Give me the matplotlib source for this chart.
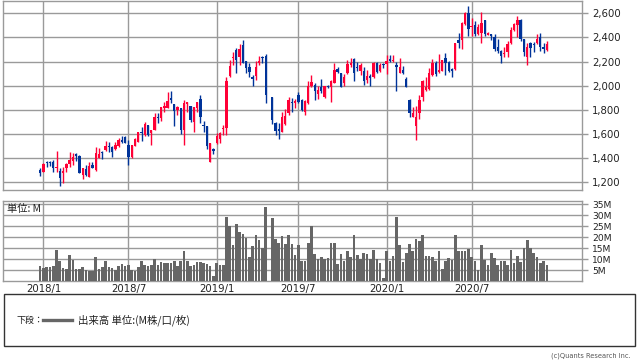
import matplotlib
matplotlib.use('Agg')
import matplotlib.pyplot as plt
import matplotlib.dates as mdates
from matplotlib.patches import Rectangle
from matplotlib.lines import Line2D
import pandas as pd

# ---- data (weekly candles) ----
weeks = pd.date_range('2017-12-25', periods=156, freq='7D')
weeks = weeks[weeks != pd.Timestamp('2019-04-29')]   # Golden Week: no trading

open_ = [1300, 1286, 1366, 1366, 1366, 1314, 1292, 1278, 1314, 1350, 1377, 1433, 1416, 1259, 1308, 1245,
         1342, 1300, 1397, 1452, 1466, 1502, 1494, 1474, 1502, 1549, 1574, 1507, 1411, 1502, 1535, 1615,
         1590, 1673, 1610, 1632, 1742, 1734, 1812, 1817, 1897, 1848, 1800, 1812, 1632, 1845, 1831, 1701,
         1817, 1889, 1676, 1665, 1369, 1471, 1521, 1554, 1637, 1651, 2080, 2229, 2296, 2240, 2337, 2204,
         2157, 2069, 2080, 2185, 2235, 2246,
         1908, 1687, 1637, 1618, 1679, 1770, 1867, 1859, 1922, 1881, 1784, 1859, 1997, 2005, 1931,
         1986, 1903, 1997, 1986, 2025, 2135, 2108, 2025, 2108, 2171, 2218, 2157, 2124, 2124, 2047,
         2080, 2069, 2191, 2124, 2180, 2180, 2218, 2207, 2171, 2102, 2130, 2052, 1881, 1743, 1665,
         1776, 1903, 1964, 1969, 2088, 2191, 2116, 2124, 2227, 2199, 2138, 2135, 2379, 2379, 2511,
         2600, 2489, 2503, 2429, 2434, 2545, 2420, 2426, 2406, 2323, 2290, 2263, 2282, 2351, 2462,
         2503, 2545, 2384, 2240, 2357, 2343, 2357, 2406, 2318, 2296]
high = [1314, 1355, 1377, 1377, 1383, 1458, 1314, 1328, 1361, 1447, 1438, 1444, 1422, 1320, 1342, 1369,
        1369, 1494, 1480, 1461, 1543, 1532, 1499, 1535, 1568, 1582, 1582, 1549, 1507, 1563, 1615, 1660,
        1698, 1673, 1632, 1770, 1770, 1820, 1867, 1944, 1955, 1848, 1835, 1812, 1881, 1867, 1831, 1825,
        1861, 1922, 1709, 1665, 1521, 1480, 1604, 1618, 1673, 2069, 2213, 2282, 2310, 2343, 2379, 2204,
        2185, 2088, 2207, 2246, 2246, 2263,
        1908, 1696, 1687, 1779, 1806, 1908, 1895, 1886, 1944, 1889, 1881, 2039, 2088, 2019, 1997,
        2052, 1997, 2005, 2047, 2191, 2157, 2108, 2097, 2213, 2227, 2227, 2199, 2185, 2157, 2130,
        2097, 2199, 2199, 2185, 2191, 2254, 2254, 2254, 2199, 2227, 2163, 2069, 1886, 1822, 1831,
        1922, 2047, 2074, 2144, 2218, 2204, 2263, 2213, 2268, 2207, 2144, 2357, 2434, 2531, 2614,
        2661, 2558, 2539, 2511, 2614, 2545, 2448, 2426, 2426, 2384, 2296, 2323, 2373, 2489, 2523,
        2578, 2550, 2384, 2351, 2365, 2365, 2426, 2434, 2351, 2373]
low = [1253, 1286, 1328, 1336, 1286, 1286, 1170, 1195, 1286, 1328, 1341, 1377, 1272, 1225, 1253, 1245,
       1314, 1294, 1397, 1389, 1461, 1447, 1411, 1466, 1494, 1521, 1521, 1342, 1397, 1502, 1535, 1541,
       1585, 1582, 1507, 1632, 1693, 1709, 1784, 1812, 1853, 1665, 1760, 1599, 1507, 1784, 1696, 1618,
       1784, 1687, 1613, 1471, 1369, 1430, 1516, 1527, 1590, 1590, 2069, 2171, 2108, 2171, 2185, 2108,
       2074, 2000, 2047, 2171, 2185, 1853,
       1682, 1590, 1554, 1613, 1673, 1756, 1784, 1817, 1853, 1792, 1756, 1848, 1986, 1881, 1886,
       1942, 1900, 1978, 1867, 2019, 2102, 1986, 1997, 2097, 2157, 2041, 2124, 2088, 2005, 2019,
       1997, 2061, 2102, 2116, 2144, 2097, 2199, 2199, 1958, 2102, 2097, 1986, 1737, 1743, 1549,
       1720, 1875, 1958, 1964, 2080, 2080, 2102, 2121, 2088, 2116, 2069, 2130, 2310, 2301, 2503,
       2412, 2412, 2412, 2420, 2357, 2415, 2420, 2379, 2290, 2268, 2191, 2240, 2235, 2346, 2456,
       2406, 2373, 2246, 2171, 2240, 2282, 2343, 2290, 2268, 2290]
close = [1272, 1350, 1355, 1358, 1314, 1328, 1236, 1292, 1350, 1383, 1411, 1419, 1278, 1314, 1259, 1333,
         1314, 1438, 1433, 1438, 1502, 1488, 1452, 1507, 1549, 1535, 1521, 1405, 1507, 1554, 1615, 1604,
         1682, 1590, 1632, 1742, 1729, 1820, 1831, 1873, 1881, 1790, 1825, 1632, 1853, 1862, 1715, 1825,
         1861, 1737, 1668, 1499, 1521, 1460, 1582, 1610, 1651, 2039, 2163, 2240, 2213, 2301, 2191, 2144,
         2116, 2052, 2152, 2204, 2227, 1922,
         1715, 1626, 1624, 1742, 1748, 1881, 1859, 1875, 1867, 1798, 1873, 1997, 2033, 1958, 1964,
         1958, 1997, 1986, 2041, 2130, 2116, 1991, 2074, 2180, 2191, 2108, 2144, 2171, 2041, 2080,
         2061, 2185, 2116, 2171, 2171, 2204, 2202, 2213, 2157, 2157, 2102, 1991, 1770, 1776, 1743,
         1881, 2041, 1986, 2102, 2191, 2097, 2130, 2213, 2185, 2124, 2121, 2351, 2357, 2517, 2606,
         2467, 2495, 2426, 2489, 2517, 2426, 2434, 2412, 2301, 2290, 2246, 2274, 2346, 2462, 2511,
         2545, 2384, 2282, 2318, 2310, 2334, 2384, 2323, 2301, 2346]
volume_m = [6.9, 5.9, 6.2, 6.2, 6.7, 14.3, 9.3, 5.9, 5.6, 12.0, 9.7, 5.6, 5.6, 6.5, 5.0, 4.8,
            4.7, 11.1, 5.6, 6.2, 9.3, 6.2, 5.9, 5.1, 6.7, 7.9, 6.7, 7.4, 5.0, 4.7, 6.2, 9.3,
            7.1, 6.7, 7.4, 10.2, 7.4, 8.5, 8.4, 8.4, 8.4, 9.3, 6.7, 9.3, 13.8, 9.0, 7.0, 7.3,
            8.7, 8.8, 8.2, 8.0, 6.7, 2.1, 8.2, 7.1, 7.1, 29.4, 25.0, 16.3, 26.0, 22.4, 21.5, 19.9,
            11.2, 15.8, 21.2, 18.9, 15.1, 34.0,
            28.8, 19.3, 17.2, 20.7, 16.9, 21.2, 16.9, 12.0, 16.6, 9.3, 9.3, 17.4, 25.1, 12.5, 10.0,
            11.1, 10.0, 10.5, 17.4, 17.4, 7.9, 12.3, 9.0, 13.8, 11.1, 21.2, 12.0, 10.2, 12.7, 12.3,
            10.0, 14.3, 10.0, 8.2, 1.6, 13.8, 9.0, 11.6, 29.4, 16.6, 8.5, 12.7, 16.9, 13.8, 19.3,
            18.1, 21.2, 11.6, 11.6, 11.1, 9.0, 13.8, 5.6, 9.0, 10.5, 9.4, 21.2, 13.8, 13.8, 13.5,
            14.8, 10.8, 9.3, 5.0, 16.6, 9.7, 7.1, 12.7, 10.5, 7.4, 9.0, 9.0, 7.1, 14.3, 8.2,
            11.6, 8.5, 15.1, 18.9, 15.1, 12.7, 10.8, 8.2, 9.3, 7.4]

price_ticks = [1200, 1400, 1600, 1800, 2000, 2200, 2400, 2600]
vol_ticks = [5, 10, 15, 20, 25, 30, 35]
x_tick_dates = ['2018-01-01', '2018-07-02', '2019-01-07', '2019-07-01', '2020-01-06', '2020-07-06']
x_tick_labels = ['2018/1', '2018/7', '2019/1', '2019/7', '2020/1', '2020/7']

UP = '#FF0036'
DOWN = '#003399'
GRID = '#9A9A9A'
VOLC = '#666666'
JP = ['Noto Sans CJK JP', 'DejaVu Sans']

plt.rcParams['font.family'] = ['DejaVu Sans', 'Noto Sans CJK JP']

W, H = 638, 362
fig = plt.figure(figsize=(W / 100, H / 100), dpi=100)
fig.patch.set_facecolor('white')

def fx(px):
    return px / W

def fy(py):
    return 1 - py / H

ax1 = fig.add_axes([fx(3.3), fy(190), fx(579), 189.3 / H])
ax2 = fig.add_axes([fx(3.3), fy(281), fx(579), 80 / H])

x = mdates.date2num(weeks.to_pydatetime())
x0 = mdates.date2num(pd.Timestamp('2017-12-25').to_pydatetime())
xt = mdates.date2num(pd.to_datetime(x_tick_dates).to_pydatetime())

colors = [UP if c >= o else DOWN for o, c in zip(open_, close)]
bottoms = [min(o, c) for o, c in zip(open_, close)]
heights = [max(abs(c - o), 7) for o, c in zip(open_, close)]

for ax in (ax1, ax2):
    ax.set_xlim(x0 - 79, x0 + 1161)
    ax.set_xticks(xt)
    ax.grid(True, color=GRID, linewidth=1.0, zorder=0)
    for s in ax.spines.values():
        s.set_color(GRID)
        s.set_linewidth(1.0)
    ax.yaxis.tick_right()
    ax.set_axisbelow(True)

ax1.vlines(x, low, high, colors=colors, linewidth=1.0, zorder=2)
ax1.bar(x, heights, bottom=bottoms, width=5.0, color=colors, linewidth=0, zorder=3)
ax1.set_ylim(1134, 2705)
ax1.set_yticks(price_ticks)
ax1.set_yticklabels([f'{v:,}' for v in price_ticks])
ax1.tick_params(axis='y', direction='out', length=4, width=1, color=GRID,
                labelsize=7.3, labelcolor='#222222', pad=3)
ax1.tick_params(axis='x', length=0, labelbottom=False)

ax2.bar(x, volume_m, width=5.6, color=VOLC, linewidth=0, zorder=3)
ax2.set_ylim(0, 36.6)
ax2.set_yticks(vol_ticks)
ax2.set_yticklabels([f'{v}M' for v in vol_ticks])
ax2.tick_params(axis='y', direction='out', length=4, width=1, color=GRID,
                labelsize=6.6, labelcolor='#222222', pad=3)
ax2.set_xticklabels(x_tick_labels)
ax2.tick_params(axis='x', length=0, labelsize=7.3, labelcolor='#222222', pad=2.5)

fig.text(fx(7), fy(209), '単位: M', fontsize=7.4, family=JP, color='#222222', va='center')

# legend box
fig.patches.append(Rectangle((fx(3.5), fy(346)), fx(631), 52 / H, transform=fig.transFigure,
                             fill=False, edgecolor='#333333', linewidth=1.0))
fig.text(fx(16.5), fy(320), '下段：', fontsize=6.5, family=JP, color='#222222', va='center')
fig.lines.append(Line2D([fx(43), fx(72)], [fy(320), fy(320)], transform=fig.transFigure,
                        color=VOLC, linewidth=2.4))
fig.text(fx(78), fy(320), '出来高 単位:(M株/口/枚)', fontsize=7.5, family=JP, color='#222222',
         va='center')
fig.text(fx(631), fy(355.5), '(c)Quants Research Inc.', fontsize=5.3,
         family='DejaVu Sans', fontstretch='condensed', color='#555555',
         ha='right', va='center')

fig.savefig('out.png', dpi=100, facecolor='white')
